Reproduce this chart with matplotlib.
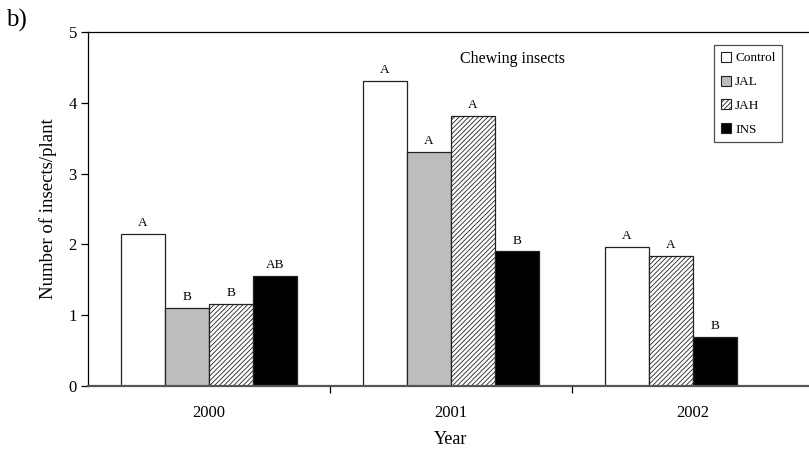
import matplotlib

matplotlib.use("Agg")
import matplotlib.pyplot as plt
from matplotlib.patches import Patch
import numpy as np

years = ["2000", "2001", "2002"]
treatments = ["Control", "JAL", "JAH", "INS"]

# mean number of chewing insects per plant; None = no JAL plants in 2002
control = [2.15, 4.31, 1.97]
jal = [1.10, 3.31, None]
jah = [1.16, 3.81, 1.83]
ins = [1.56, 1.90, 0.69]

letters_control = ["A", "A", "A"]
letters_jal = ["B", "A", None]
letters_jah = ["B", "A", "A"]
letters_ins = ["AB", "B", "B"]

plt.rcParams["font.family"] = ["Liberation Serif", "DejaVu Serif"]
plt.rcParams["hatch.linewidth"] = 0.6

styles = {
    "Control": dict(facecolor="white", hatch=None),
    "JAL": dict(facecolor="#bdbdbd", hatch=None),
    "JAH": dict(facecolor="white", hatch="///////"),
    "INS": dict(facecolor="black", hatch=None),
}

fig = plt.figure(figsize=(8.09, 4.5), dpi=100)
ax = fig.add_axes([88 / 809, 64 / 450, 726 / 809, 354 / 450])

width = 0.182
series = list(zip(treatments, [control, jal, jah, ins],
                  [letters_control, letters_jal, letters_jah, letters_ins]))

for gi in range(len(years)):
    present = [(name, vals[gi], labs[gi]) for name, vals, labs in series if vals[gi] is not None]
    for slot, (name, value, lab) in enumerate(present):
        x = gi + (slot - 1.5) * width
        st = styles[name]
        ax.bar(x, value, width=width, facecolor=st["facecolor"], hatch=st["hatch"],
               edgecolor="#222222", linewidth=0.9, zorder=2)
        ax.text(x, value + 0.07, lab, ha="center", va="bottom", fontsize=9.5)

ax.set_xlim(-0.5, 2.5)
ax.set_ylim(0, 5)
ax.set_xticks(range(len(years)))
ax.set_xticklabels(years, fontsize=12)
ax.tick_params(axis="x", which="major", length=0, pad=14)
ax.set_xticks([0.5, 1.5], minor=True)
ax.tick_params(axis="x", which="minor", length=5, direction="out", width=0.9)
ax.set_yticks(np.arange(0, 6, 1))
ax.tick_params(axis="y", labelsize=12, length=5, width=0.9, pad=3)

ax.spines["right"].set_visible(False)
ax.spines["top"].set_linewidth(0.9)
ax.spines["left"].set_linewidth(0.9)
ax.spines["bottom"].set_color("#555555")
ax.spines["bottom"].set_linewidth(1.6)

ax.set_xlabel("Year", fontsize=13, labelpad=7)
ax.set_ylabel("Number of insects/plant", fontsize=13.5, labelpad=8)

ax.text(0.585, 0.925, "Chewing insects", transform=ax.transAxes, ha="center",
        va="center", fontsize=11.5)
fig.text(0.008, 0.955, "b)", fontsize=18, ha="left", va="center")

handles = [Patch(facecolor=styles[t]["facecolor"], hatch=styles[t]["hatch"],
                 edgecolor="#222222", linewidth=0.8) for t in treatments]
leg = ax.legend(handles, treatments, loc="upper right", bbox_to_anchor=(0.956, 0.963),
                borderaxespad=0, fontsize=9.5, frameon=True, fancybox=False,
                handlelength=0.8, handleheight=0.8, handletextpad=0.3,
                labelspacing=0.85, borderpad=0.5)
leg.get_frame().set_edgecolor("#222222")
leg.get_frame().set_linewidth(0.9)

fig.savefig("out.png", dpi=100)
